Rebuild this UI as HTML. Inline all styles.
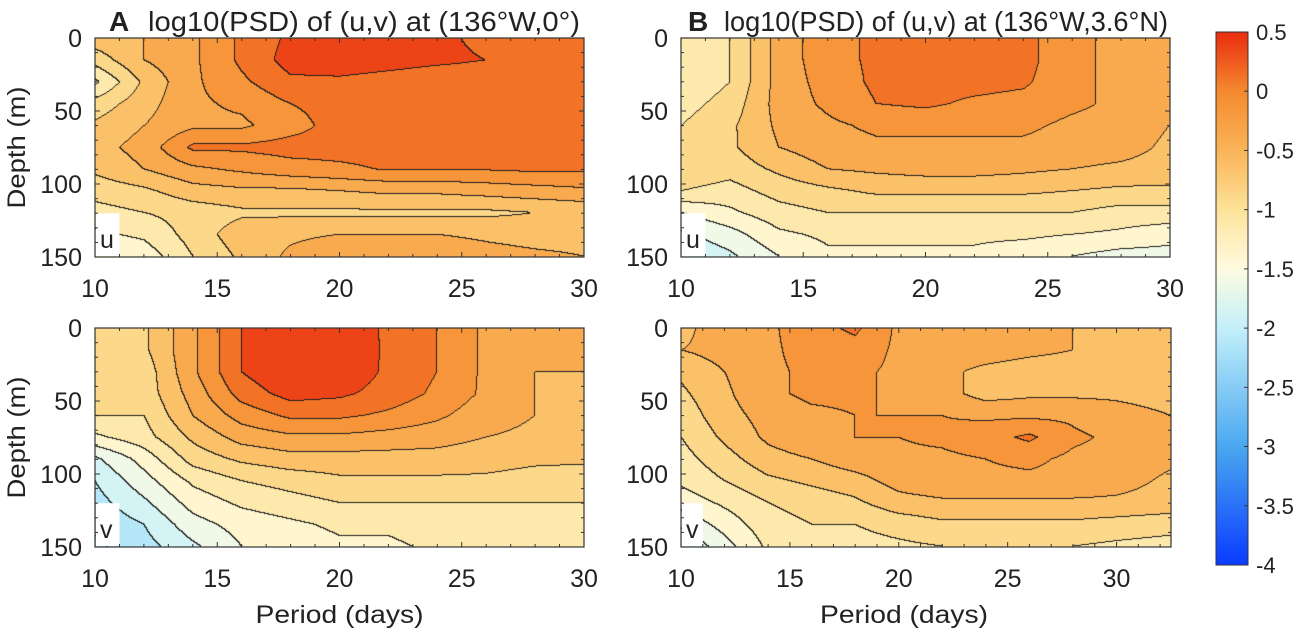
<!DOCTYPE html>
<html><head><meta charset="utf-8">
<style>
body{margin:0;background:#fff;width:1299px;height:634px;overflow:hidden;position:relative;font-family:"Liberation Sans",sans-serif;}
canvas{position:absolute;}
svg{position:absolute;left:0;top:0;}
text{font-family:"Liberation Sans",sans-serif;fill:#222;}
</style></head><body>
<canvas id="cA" style="left:95px;top:38px" width="489" height="219"></canvas>
<canvas id="cC" style="left:95px;top:328px" width="489" height="219"></canvas>
<canvas id="cB" style="left:681px;top:38px" width="489" height="219"></canvas>
<canvas id="cD" style="left:681px;top:328px" width="490" height="219"></canvas>
<canvas id="cbar" style="left:1216px;top:32px" width="32" height="533"></canvas>
<svg id="ov" width="1299" height="634"></svg>
<script>
const depths=[0,15,30,45,60,75,90,105,120,135,150];
const periodsStd=[10,12,14,16,18,20,22,24,26,28,30];
const periodsExt=[10,12,14,16,18,20,22,24,26,28,30,32.5];
const gridAu=[
[-0.6,-0.5,-0.3,0.05,0.3,0.35,0.3,0.3,0.2,0.1,0.1],
[-0.9,-0.5,-0.3,0.05,0.35,0.4,0.35,0.3,0.25,0.1,0.1],
[-1.3,-0.7,-0.3,-0.05,0.2,0.2,0.15,0.1,0.1,0.1,0.1],
[-0.9,-0.6,-0.3,-0.2,0.0,0.1,0.1,0.1,0.1,0.1,0.1],
[-0.7,-0.5,-0.3,-0.3,-0.1,0.1,0.1,0.1,0.1,0.1,0.1],
[-0.6,-0.4,0.05,0.05,0.1,0.1,0.1,0.1,0.1,0.1,0.1],
[-0.7,-0.5,-0.3,-0.2,-0.1,-0.05,0.02,0.02,0.02,0.05,0.05],
[-0.9,-0.8,-0.6,-0.55,-0.55,-0.5,-0.45,-0.45,-0.4,-0.35,-0.3],
[-1.1,-1.0,-0.9,-0.8,-0.8,-0.8,-0.8,-0.8,-0.8,-0.75,-0.7],
[-1.3,-1.2,-0.9,-0.6,-0.55,-0.5,-0.5,-0.5,-0.55,-0.6,-0.6],
[-1.5,-1.4,-1.0,-0.7,-0.45,-0.3,-0.3,-0.3,-0.4,-0.45,-0.5]];
const gridAv=[
[-0.9,-0.8,-0.3,0.25,0.45,0.45,0.2,0.0,-0.3,-0.5,-0.5],
[-0.9,-0.8,-0.3,0.25,0.5,0.5,0.2,0.0,-0.3,-0.5,-0.5],
[-1.0,-0.9,-0.3,0.25,0.5,0.45,0.2,0.0,-0.3,-0.5,-0.5],
[-0.9,-0.9,-0.4,0.1,0.35,0.3,0.15,-0.05,-0.3,-0.5,-0.55],
[-1.0,-1.0,-0.5,-0.15,0.05,0.05,-0.05,-0.2,-0.4,-0.5,-0.55],
[-1.3,-1.1,-0.7,-0.4,-0.3,-0.3,-0.35,-0.4,-0.5,-0.55,-0.6],
[-1.8,-1.4,-0.9,-0.7,-0.6,-0.6,-0.6,-0.6,-0.65,-0.7,-0.7],
[-2.0,-1.6,-1.2,-1.0,-0.9,-0.8,-0.8,-0.8,-0.8,-0.85,-0.9],
[-2.1,-1.8,-1.4,-1.2,-1.1,-1.0,-1.0,-1.0,-1.0,-1.0,-1.0],
[-2.2,-2.0,-1.6,-1.4,-1.3,-1.2,-1.2,-1.1,-1.1,-1.1,-1.1],
[-2.3,-2.1,-1.8,-1.5,-1.4,-1.3,-1.3,-1.2,-1.2,-1.2,-1.2]];
const gridBu=[
[-1.2,-1.0,-0.4,-0.1,0.05,0.1,0.1,0.1,-0.2,-0.3,-0.4],
[-1.2,-1.0,-0.4,-0.1,0.05,0.1,0.1,0.1,-0.2,-0.3,-0.4],
[-1.2,-1.0,-0.4,-0.15,0.05,0.1,0.1,0.05,-0.2,-0.3,-0.4],
[-1.1,-0.9,-0.4,-0.2,0.0,0.05,-0.05,-0.1,-0.2,-0.3,-0.4],
[-1.0,-0.8,-0.45,-0.3,-0.2,-0.2,-0.2,-0.2,-0.3,-0.35,-0.5],
[-0.9,-0.8,-0.5,-0.35,-0.3,-0.3,-0.3,-0.3,-0.35,-0.4,-0.55],
[-0.8,-0.9,-0.7,-0.5,-0.45,-0.4,-0.4,-0.45,-0.5,-0.55,-0.6],
[-1.0,-1.1,-0.9,-0.8,-0.7,-0.7,-0.7,-0.7,-0.75,-0.8,-0.8],
[-1.5,-1.3,-1.1,-1.0,-1.0,-1.0,-1.0,-1.0,-1.0,-1.1,-1.1],
[-1.8,-1.6,-1.3,-1.2,-1.2,-1.2,-1.2,-1.2,-1.25,-1.3,-1.4],
[-2.0,-1.8,-1.5,-1.3,-1.3,-1.3,-1.3,-1.4,-1.5,-1.6,-1.6]];
const gridBv=[
[-0.6,-0.3,-0.3,-0.1,0.05,-0.3,-0.3,-0.3,-0.35,-0.5,-0.6,-0.6],
[-0.5,-0.4,-0.3,-0.15,-0.1,-0.3,-0.3,-0.3,-0.4,-0.5,-0.7,-0.7],
[-0.7,-0.5,-0.3,-0.2,-0.2,-0.3,-0.4,-0.6,-0.7,-0.7,-0.7,-0.7],
[-0.8,-0.55,-0.3,-0.2,-0.2,-0.3,-0.4,-0.6,-0.55,-0.55,-0.55,-0.6],
[-0.9,-0.6,-0.4,-0.3,-0.25,-0.25,-0.25,-0.3,-0.3,-0.3,-0.4,-0.5],
[-1.0,-0.7,-0.45,-0.3,-0.25,-0.25,-0.2,-0.1,0.05,-0.2,-0.3,-0.4],
[-1.1,-0.85,-0.6,-0.5,-0.35,-0.3,-0.3,-0.25,-0.2,-0.3,-0.35,-0.45],
[-1.2,-1.0,-0.8,-0.7,-0.6,-0.4,-0.3,-0.3,-0.3,-0.3,-0.4,-0.55],
[-1.4,-1.2,-1.0,-0.9,-0.8,-0.6,-0.55,-0.55,-0.55,-0.55,-0.55,-0.6],
[-1.7,-1.4,-1.1,-1.0,-1.0,-0.9,-0.8,-0.8,-0.8,-0.8,-0.85,-0.9],
[-2.0,-1.6,-1.2,-1.1,-1.1,-1.05,-1.0,-1.0,-1.0,-1.0,-1.05,-1.1]];
const depthTicks=[0,50,100,150];
const periodTicks=[10,15,20,25,30];
const cbarTicks=[0.5,0,-0.5,-1,-1.5,-2,-2.5,-3,-3.5,-4];
const cbarTickLabels=["0.5","0","-0.5","-1","-1.5","-2","-2.5","-3","-3.5","-4"];

const stops=[[-4,[10,60,255]],[-3,[74,168,240]],[-2,[196,240,250]],[-1.5,[255,251,224]],[-1,[253,227,154]],[-0.5,[250,181,88]],[0,[245,138,46]],[0.5,[234,45,15]]];
function cmap(v){
  if(v<=stops[0][0])return stops[0][1];
  for(let i=1;i<stops.length;i++){if(v<=stops[i][0]){const a=stops[i-1],b=stops[i];const t=(v-a[0])/(b[0]-a[0]);return a[1].map((c,k)=>Math.round(c+(b[1][k]-c)*t));}}
  return stops[stops.length-1][1];
}
function interp(arr,x){
  if(x<=arr[0])return 0; for(let i=1;i<arr.length;i++){if(x<=arr[i])return i-1+(x-arr[i-1])/(arr[i]-arr[i-1]);} return arr.length-1;
}
function sample(grid,px,d,periods){
  const fx=interp(periods,px),fy=interp(depths,d);
  const i0=Math.min(Math.floor(fx),periods.length-2),j0=Math.min(Math.floor(fy),depths.length-2);
  const tx=fx-i0,ty=fy-j0;
  const a=grid[j0][i0],b=grid[j0][i0+1],c=grid[j0+1][i0],e=grid[j0+1][i0+1];
  return a*(1-tx)*(1-ty)+b*tx*(1-ty)+c*(1-tx)*ty+e*tx*ty;
}
function drawPanel(id,grid,periods,pmin,pmax){
  const cv=document.getElementById(id),ctx=cv.getContext('2d');const W=cv.width,H=cv.height;
  const img=ctx.createImageData(W,H);const lev=new Float32Array(W*H);
  for(let y=0;y<H;y++)for(let x=0;x<W;x++){
    const p=pmin+(pmax-pmin)*x/(W-1),d=150*y/(H-1);
    lev[y*W+x]=Math.floor((sample(grid,p,d,periods)+1e-6)/0.25);
  }
  for(let y=0;y<H;y++)for(let x=0;x<W;x++){
    const L=lev[y*W+x];let col=cmap((L+0.5)*0.25);
    if((x<W-1&&lev[y*W+x+1]!==L)||(y<H-1&&lev[(y+1)*W+x]!==L))col=[30,30,30];
    const k=(y*W+x)*4;img.data[k]=col[0];img.data[k+1]=col[1];img.data[k+2]=col[2];img.data[k+3]=255;
  }
  ctx.putImageData(img,0,0);
}
drawPanel('cA',gridAu,periodsStd,10,30);
drawPanel('cC',gridAv,periodsStd,10,30);
drawPanel('cB',gridBu,periodsStd,10,30);
drawPanel('cD',gridBv,periodsExt,10,32.5);
(function(){const cv=document.getElementById('cbar'),ctx=cv.getContext('2d');
 for(let y=0;y<cv.height;y++){const v=0.5-4.5*y/(cv.height-1);const c=cmap(v);ctx.fillStyle=`rgb(${c[0]},${c[1]},${c[2]})`;ctx.fillRect(0,y,cv.width,1);}})();

const NS='http://www.w3.org/2000/svg';const ov=document.getElementById('ov');
function el(tag,attrs,txt){const e=document.createElementNS(NS,tag);for(const k in attrs)e.setAttribute(k,attrs[k]);if(txt!==undefined)e.textContent=txt;ov.appendChild(e);return e;}
const panels=[
 {x0:95,x1:584,y0:38,y1:257,pmin:10,pmax:30,name:'panel-a-u',lab:'u',xlab:false},
 {x0:95,x1:584,y0:328,y1:547,pmin:10,pmax:30,name:'panel-a-v',lab:'v',xlab:true},
 {x0:681,x1:1170,y0:38,y1:257,pmin:10,pmax:30,name:'panel-b-u',lab:'u',xlab:false},
 {x0:681,x1:1171,y0:328,y1:547,pmin:10,pmax:32.5,name:'panel-b-v',lab:'v',xlab:true}];
panels.forEach(P=>{
  const sx=p=>P.x0+(P.x1-P.x0)*(p-P.pmin)/(P.pmax-P.pmin);
  const sy=d=>P.y0+(P.y1-P.y0)*d/150;
  const bx=el('rect',{x:P.x0+1,y:sy(120),width:sx(11)-P.x0-1,height:P.y1-sy(120)-1,fill:'#fff'});
  
  const lt=el('text',{x:P.x0+5,y:P.y1-9,'font-size':25},P.lab);
  
  const fr=el('rect',{x:P.x0,y:P.y0,width:P.x1-P.x0,height:P.y1-P.y0,fill:'none',stroke:'#333','stroke-width':1.2});
  
  for(let p=Math.ceil(P.pmin);p<=P.pmax;p++){const x=sx(p);const len=(p%5===0)?5:3;
    el('line',{x1:x,x2:x,y1:P.y1,y2:P.y1-len,stroke:'#333'});el('line',{x1:x,x2:x,y1:P.y0,y2:P.y0+len,stroke:'#333'});}
  for(let d=0;d<=150;d+=10){const y=sy(d);const len=(d%50===0)?5:3;
    el('line',{x1:P.x0,x2:P.x0+len,y1:y,y2:y,stroke:'#333'});el('line',{x1:P.x1,x2:P.x1-len,y1:y,y2:y,stroke:'#333'});}
  periodTicks.forEach(p=>{const t=el('text',{x:sx(p),y:P.y1+40,'font-size':25,'text-anchor':'middle'},String(p));
    });
  depthTicks.forEach(d=>{const t=el('text',{x:P.x0-13,y:sy(d)+9,'font-size':25,'text-anchor':'end'},String(d));
    });
  if(P.x0<200){const yt=el('text',{x:0,y:0,'font-size':25,'text-anchor':'middle',textLength:122,lengthAdjust:'spacingAndGlyphs',transform:`translate(25,${(P.y0+P.y1)/2}) rotate(-90)`},'Depth (m)');
    }
  if(P.xlab){const xt=el('text',{x:(P.x0+P.x1)/2-(P.pmax>30?22:0),y:P.y1+76,'font-size':25,'text-anchor':'middle',textLength:168,lengthAdjust:'spacingAndGlyphs'},'Period (days)');
    }
});
const tA=el('text',{x:109,y:31,'font-size':28,'font-weight':'bold'},'A');
const tA2=el('text',{x:148,y:31,'font-size':28,textLength:432,lengthAdjust:'spacingAndGlyphs'},'log10(PSD) of (u,v) at (136°W,0°)');

const tB=el('text',{x:688,y:31,'font-size':28,'font-weight':'bold'},'B');
const tB2=el('text',{x:724,y:31,'font-size':28,textLength:444,lengthAdjust:'spacingAndGlyphs'},'log10(PSD) of (u,v) at (136°W,3.6°N)');

const cf=el('rect',{x:1216,y:32,width:32,height:533,fill:'none',stroke:'#333'});

cbarTicks.forEach((v,i)=>{const y=32+533*(0.5-v)/4.5;
  el('line',{x1:1244,x2:1248,y1:y,y2:y,stroke:'#333'});
  const t=el('text',{x:1256,y:y+8,'font-size':22},cbarTickLabels[i]);
  });
</script>
</body></html>
